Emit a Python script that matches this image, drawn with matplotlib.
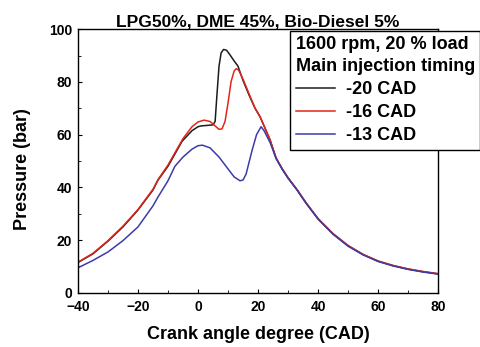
import matplotlib
matplotlib.use("Agg")
import matplotlib.pyplot as plt
from matplotlib.ticker import MultipleLocator

plt.rcParams['font.family'] = ['Liberation Sans', 'DejaVu Sans']
plt.rcParams['font.weight'] = 'bold'

title = "LPG50%, DME 45%, Bio-Diesel 5%"
legend_title = "1600 rpm, 20 % load\nMain injection timing"
labels = ["-20 CAD", "-16 CAD", "-13 CAD"]
colors = ["#1c1c1c", "#e3261b", "#3c3ca8"]

x_m20 = [-40, -35, -30, -25, -20, -15, -13.3, -10, -5.3, -2, 0, 1, 3, 5, 5.7, 6.3, 7, 7.7,
         8.5, 9.5, 10.5, 12, 13.3, 15, 17, 19, 20.7, 22, 24, 26, 28, 30, 33, 36, 40, 45,
         50, 55, 60, 65, 70, 75, 80]
p_m20 = [11.5, 14.8, 19.6, 25, 31.4, 39, 42.8, 48, 57.5, 61.5, 63, 63.3, 63.5, 63.7, 65,
         75, 86, 91, 92.3, 92, 90.5, 88, 86, 80.5, 75, 70, 66.7, 63.3, 58, 51, 47, 43.5,
         39, 34, 28, 22.3, 17.8, 14.5, 12, 10.3, 9, 8, 7.2]

x_m16 = [-40, -35, -30, -25, -20, -15, -13.3, -10, -5, -2, 0, 2, 4, 5.5, 7, 8, 9, 10, 11,
         12, 12.7, 13.5, 15, 17, 19, 20.7, 22, 24, 26, 28, 30, 33, 36, 40, 45, 50, 55, 60,
         65, 70, 75, 80]
p_m16 = [11.6, 15, 19.8, 25.3, 31.6, 39.3, 43, 48.5, 58.5, 63, 64.8, 65.5, 65, 63.5, 62,
         62.2, 65, 72, 80, 84, 85, 84.5, 81, 75.5, 70, 66.7, 63.3, 58, 51.2, 47.2, 43.7,
         39.2, 34.2, 28.2, 22.5, 18, 14.6, 12.1, 10.4, 9.1, 8.1, 7.3]

x_m13 = [-40, -35, -30, -25, -20, -15, -13.3, -10, -7.7, -5, -2, 0, 1.5, 4, 7, 10, 12, 14,
         15, 16, 18, 19.5, 21, 22, 24, 26, 28, 30, 33, 36, 40, 45, 50, 55, 60, 65, 70, 75,
         80]
p_m13 = [9.5, 12.3, 15.5, 19.8, 25, 33, 36.4, 42.5, 48, 51.5, 54.5, 55.8, 56, 55, 51.5, 47,
         44, 42.5, 42.8, 45, 54, 60, 63, 61.5, 57, 51, 47, 43.5, 39, 34, 28, 22.2, 17.7,
         14.4, 11.9, 10.2, 8.9, 7.9, 7.1]

fig = plt.figure(figsize=(4.81, 3.47), dpi=100)
ax = fig.add_axes([0.162, 0.156, 0.749, 0.760])

for xs, ys, lab, c in zip([x_m20, x_m16, x_m13], [p_m20, p_m16, p_m13], labels, colors):
    ax.plot(xs, ys, color=c, lw=1.1, label=lab)

ax.set_xlim(-40, 80)
ax.set_ylim(0, 100)
ax.xaxis.set_major_locator(MultipleLocator(20))
ax.xaxis.set_minor_locator(MultipleLocator(10))
ax.yaxis.set_major_locator(MultipleLocator(20))
ax.yaxis.set_minor_locator(MultipleLocator(10))
ax.tick_params(which='both', direction='in', top=False, right=False, labelsize=10)
ax.tick_params(axis='x', pad=5)
ax.tick_params(axis='y', pad=4)
ax.tick_params(which='major', length=3)
ax.tick_params(which='minor', length=2)
for lbl in ax.get_xticklabels() + ax.get_yticklabels():
    lbl.set_fontweight('bold')
for s in ax.spines.values():
    s.set_linewidth(1.0)

ax.set_xlabel("Crank angle degree (CAD)", fontsize=13, fontweight='bold')
ax.set_ylabel("Pressure (bar)", fontsize=13, fontweight='bold')
ax.xaxis.set_label_coords(0.5, -0.125)
ax.yaxis.set_label_coords(-0.13, 0.47)
ax.set_title(title, fontsize=12.5, fontweight='bold', pad=2)

leg = ax.legend(title=legend_title, loc='upper left', bbox_to_anchor=(0.589, 0.993),
                fancybox=False, framealpha=1, edgecolor='black', fontsize=13,
                title_fontsize=13, alignment='left', handlelength=2.2, handletextpad=0.6,
                borderpad=0.3, labelspacing=0.34, borderaxespad=0)
leg.get_title().set_fontweight('bold')
leg.get_title().set_linespacing(1.35)
for t in leg.get_texts():
    t.set_fontweight('bold')
leg.get_frame().set_linewidth(1.0)

fig.savefig("out.png", dpi=100)
